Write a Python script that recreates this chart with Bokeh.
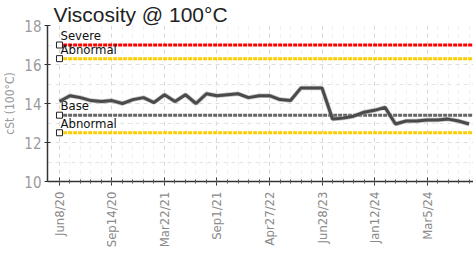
from math import pi
from bokeh.plotting import figure
from bokeh.models import Range1d, FixedTicker
from bokeh.core.properties import value
from bokeh.embed import file_html
from bokeh.resources import INLINE

# ---- data ----
viscosity = [14.1, 14.4, 14.3, 14.15, 14.1, 14.15, 14.0, 14.2, 14.3, 14.05,
             14.45, 14.1, 14.45, 14.0, 14.5, 14.4, 14.45, 14.5, 14.3, 14.4,
             14.4, 14.2, 14.15, 14.8, 14.8, 14.8, 13.2, 13.25, 13.35, 13.55,
             13.65, 13.8, 12.95, 13.1, 13.1, 13.15, 13.15, 13.2, 13.1, 12.95]
sample_index = list(range(len(viscosity)))
tick_positions = [0, 5, 10, 15, 20, 25, 30, 35]
tick_labels = ["Jun8/20", "Sep14/20", "Mar22/21", "Sep1/21", "Apr27/22",
               "Jun28/23", "Jan12/24", "Mar5/24"]
limit_names = ["Severe", "Abnormal", "Base", "Abnormal"]
limit_values = [17.0, 16.3, 13.4, 12.5]
limit_colors = ["#ff0000", "#ffcc00", "#666666", "#ffcc00"]
y_ticks = [10, 12, 14, 16, 18]
y_minor = [11, 13, 15, 17]
title_text = "Viscosity @ 100\u00b0C"
y_label = "cSt (100\u00b0C)"

NARROW = "'DejaVu Sans Condensed', Roboto, sans-serif"

x_start, x_end = -1.14, 39.52

p = figure(frame_width=427, frame_height=156, output_backend="svg",
           toolbar_location=None,
           x_range=Range1d(x_start, x_end), y_range=Range1d(10, 18),
           min_border_left=38, min_border_right=0, min_border_top=20,
           min_border_bottom=60, background_fill_color="white",
           border_fill_color="white", outline_line_color=None)

# title
p.title.text = title_text
p.title.text_font = "Liberation Sans"
p.title.text_font_size = "21px"
p.title.text_font_style = "normal"
p.title.text_color = "#222222"
p.title.text_line_height = 0.7
p.title.standoff = 0
p.title.offset = 6

# grids
p.xgrid.ticker = FixedTicker(ticks=tick_positions, minor_ticks=sample_index)
p.xgrid.grid_line_color = "#d8d8d8"
p.xgrid.grid_line_dash = "4 4"
p.xgrid.minor_grid_line_color = "#f0f0f0"
p.xgrid.minor_grid_line_dash = "4 4"
p.ygrid.ticker = FixedTicker(ticks=y_ticks, minor_ticks=y_minor)
p.ygrid.grid_line_color = "#dcdcdc"
p.ygrid.grid_line_dash = "4 4"
p.ygrid.minor_grid_line_color = "#e4e4e4"
p.ygrid.minor_grid_line_dash = "4 4"

# axes
xa = p.xaxis[0]
xa.ticker = FixedTicker(ticks=tick_positions, minor_ticks=sample_index)
xa.major_label_overrides = {t: l for t, l in zip(tick_positions, tick_labels)}
xa.major_label_orientation = pi / 2
xa.major_label_text_font = NARROW
xa.major_label_text_font_size = "13px"
xa.major_label_text_color = "#8a8a8a"
xa.axis_line_color = "#333333"
xa.axis_line_width = 1.5
xa.major_tick_line_color = "#333333"
xa.major_tick_in = 4
xa.major_tick_out = 4
xa.minor_tick_line_color = "#555555"
xa.minor_tick_in = 2
xa.minor_tick_out = 2
xa.major_label_standoff = 6

ya = p.yaxis[0]
ya.ticker = FixedTicker(ticks=y_ticks)
ya.axis_label = y_label
ya.axis_label_text_font = NARROW
ya.axis_label_text_font_size = "12px"
ya.axis_label_text_font_style = "normal"
ya.axis_label_text_color = "#9a9a9a"
ya.axis_label_standoff = 4
ya.major_label_text_font = NARROW
ya.major_label_text_font_size = "15px"
ya.major_label_text_color = "#9a9a9a"
ya.major_label_standoff = 3
ya.axis_line_color = "#333333"
ya.axis_line_width = 1.5
ya.major_tick_line_color = "#333333"
ya.major_tick_in = 3
ya.major_tick_out = 3
ya.minor_tick_line_color = None

# limit lines
for name, val, col in zip(limit_names, limit_values, limit_colors):
    p.line([sample_index[0] + 0.35, x_end], [val, val], line_color=col,
           line_width=3, line_dash="4 1")
    p.scatter([sample_index[0]], [val], marker="square", size=6,
              fill_color="white", line_color="#222222", line_width=1)
    p.text([sample_index[0]], [val], text=[name], x_offset=1, y_offset=-2,
           text_font=value(NARROW), text_font_size="13px",
           text_color="#111111", text_baseline="bottom", text_align="left")

# data line
p.line(sample_index, viscosity, line_color="#9a9a9a", line_width=4.5,
       line_alpha=0.6)
p.line(sample_index, viscosity, line_color="#4a4a4a", line_width=3)

open("out.html", "w").write(file_html(p, INLINE))
